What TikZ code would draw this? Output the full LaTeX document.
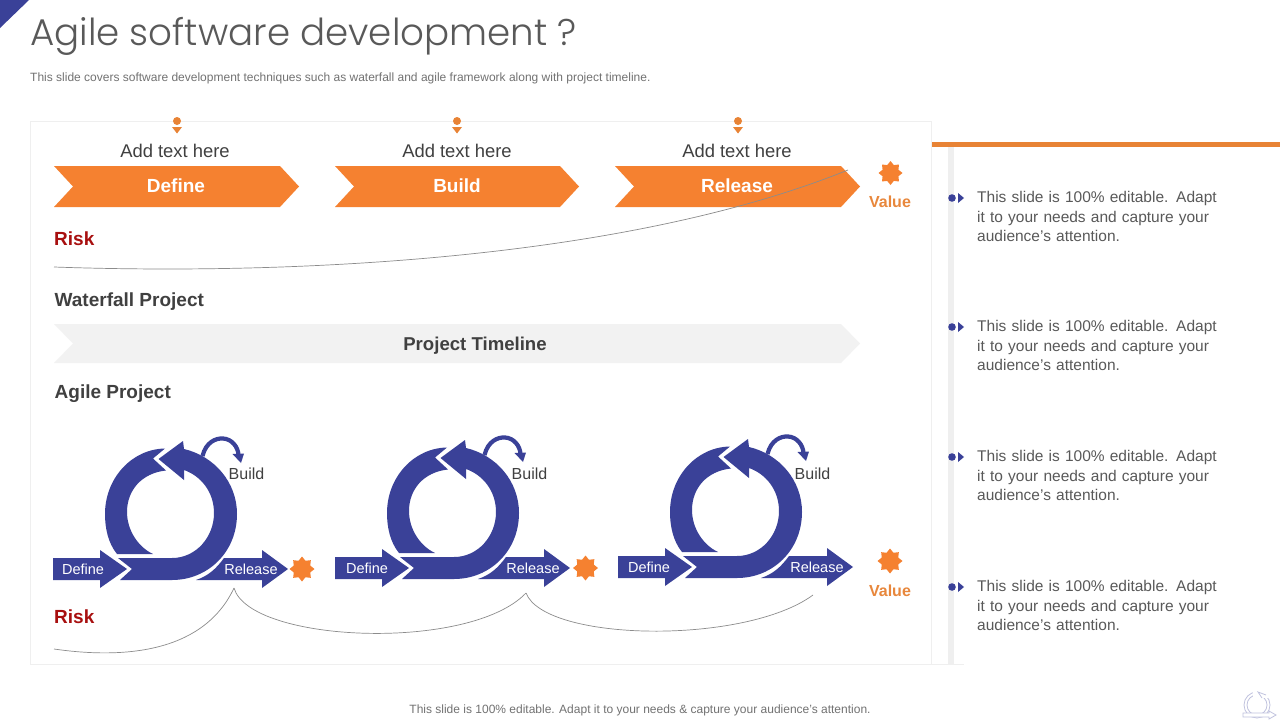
\documentclass[tikz,border=0pt]{standalone}
\usepackage{fontspec}
\setmainfont{Liberation Sans}
\newfontfamily\titlefont{Poppins Light}
\usetikzlibrary{shapes.geometric}
\definecolor{navy}{HTML}{3A4198}
\definecolor{orng}{HTML}{F58130}
\definecolor{barorng}{HTML}{E88335}
\definecolor{txt}{HTML}{404040}
\definecolor{bodytxt}{HTML}{595959}
\definecolor{lite}{HTML}{EFEFEF}
\definecolor{band}{HTML}{F2F2F2}
\definecolor{riskred}{HTML}{A80F0F}
\definecolor{valor}{HTML}{E8873C}
\tikzset{
 x=1pt,y=-1pt,
 lab/.style={font=\fontsize{18.4}{20}\selectfont,text=txt,inner sep=0pt},
 chevtxt/.style={font=\fontsize{19}{21}\selectfont\bfseries,text=white,inner sep=0pt},
 heading/.style={font=\fontsize{19}{21}\selectfont\bfseries,text=txt,inner sep=0pt,anchor=west},
 risk/.style={font=\fontsize{19}{21}\selectfont\bfseries,text=riskred,inner sep=0pt,anchor=west},
 val/.style={font=\fontsize{16}{18}\selectfont\bfseries,text=valor,inner sep=0pt},
 arrtxt/.style={font=\fontsize{14.5}{16}\selectfont,text=white,inner sep=0pt},
 buildtxt/.style={font=\fontsize{16}{18}\selectfont,text=txt,inner sep=0pt},
 side/.style={font=\fontsize{15.5}{19.2}\selectfont,text=bodytxt,inner sep=0pt,anchor=north west,align=left,text width=250pt},
 small/.style={font=\fontsize{12}{14}\selectfont,text=bodytxt!85,inner sep=0pt},
 burst/.style={star,star points=8,star point ratio=1.4,fill=orng,draw=none,inner sep=0pt,minimum size=#1},
 thin curve/.style={draw=black!45,line width=.7pt},
 logo/.style={draw=navy!32,line width=.8pt},
}
\newcommand{\chevronshape}[5]{% x0 x1 y0 y1 colour
 \fill[#5] (#1,#3) -- ({#2-19},#3) -- (#2,{(#3+#4)/2}) -- ({#2-19},#4) -- (#1,#4) -- ({#1+19},{(#3+#4)/2}) -- cycle;}
\newcommand{\pinmark}[1]{%
 \fill[barorng] (#1,121) circle (4);
 \fill[barorng] ({#1-5},127) -- ({#1+5},127) -- (#1,133.5) -- cycle;}
\newcommand{\bulletmark}[1]{%
 \fill[navy] (952,#1) circle (3.8);
 \fill[navy] (958,{#1-5}) -- (964,#1) -- (958,{#1+5}) -- cycle;}
\newcommand{\agileloop}[6]{% id dx dy define-dx release-dx build-dx
\begin{scope}[shift={(#2,#3)}]
 % left piece of the ring
 \fill[navy] (165,448.5) -- (153,458.5) -- (166,470.5)
   .. controls (142,473) and (127,490) .. (127,512)
   .. controls (127,530) and (138,547) .. (153,554) -- (117,554)
   .. controls (108,543) and (105,528) .. (105,514)
   .. controls (105,478) and (132,449) .. (165,448.5) -- cycle;
 % main piece of the ring with head
 \fill[navy] (120,580) -- (132,569) -- (118,558) -- (172,558)
   .. controls (196,558) and (214,537) .. (214,513)
   .. controls (214,492) and (201,476) .. (184,470) -- (184,480) -- (158.5,459) -- (183,441) -- (184,449)
   .. controls (214,456) and (237,482) .. (237,514)
   .. controls (237,552) and (208,580) .. (172,580) -- cycle;
 % small curved arrow
 \draw[navy,line width=4.2pt] (202.5,456) .. controls (206,442) and (216,438) .. (223,438.5) .. controls (232,439) and (238,447) .. (238.5,455);
 \fill[navy] (232.5,454) -- (244,453.5) -- (241,463) -- cycle;
 % define and release arrows
 \fill[navy] (53,558) -- (100,558) -- (100,550) -- (127,569) -- (100,588) -- (100,580) -- (53,580) -- cycle;
 \fill[navy] (196,580) .. controls (208,576) and (216,569) .. (224,558) -- (262,558) -- (262,550) -- (288,569) -- (262,588) -- (262,580) -- cycle;
 \node[arrtxt] (def#1) at ({83+#4},569) {Define};
 \node[arrtxt] (rel#1) at ({251+#5},569) {Release};
 \node[buildtxt] (bld#1) at ({246.5+#6},{474-#3}) {Build};
\end{scope}}
\begin{document}
\begin{tikzpicture}
\useasboundingbox (0,0) rectangle (1280,720);
\fill[white] (0,0) rectangle (1280,720);
\fill[navy] (0,0) -- (29,0) -- (0,28) -- cycle;
\node[font=\titlefont\fontsize{37.2}{42}\selectfont,text=bodytxt,inner sep=0pt,anchor=west] (title) at (30,36) {Agile software development ?};
\node[small,anchor=west] (sub) at (30,78) {This slide covers software development techniques such as waterfall and agile framework along with project timeline.};
% panel
\draw[draw=lite,line width=1pt] (30.5,121) rectangle (931.5,664.5);
% right column
\fill[lite] (948,147) rectangle (954,664);
\draw[lite,line width=1pt] (932,664.5) -- (964,664.5);
\fill[barorng] (932,142) rectangle (1280,147);
% waterfall row
\pinmark{177}\pinmark{457}\pinmark{738}
\node[lab] (a1) at (175,151) {Add text here};
\node[lab] (a2) at (457,151) {Add text here};
\node[lab] (a3) at (737,151) {Add text here};
\chevronshape{54}{299}{166}{207}{orng}
\chevronshape{335}{579}{166}{207}{orng}
\chevronshape{615}{860}{166}{207}{orng}
\node[chevtxt] (c1) at (176,186) {Define};
\node[chevtxt] (c2) at (457,186) {Build};
\node[chevtxt] (c3) at (737,186) {Release};
\node[burst=24pt] (s1) at (890.5,173) {};
\node[val] (v1) at (890,202) {Value};
\node[risk] (r1) at (54,239) {Risk};
\coordinate (wa) at (54,267);
\coordinate (wb) at (848,170);
\draw[thin curve] (wa) .. controls (280,275) and (620,262) .. (wb);
\node[heading] (wf) at (54.5,301.5) {Waterfall Project};
\chevronshape{54}{860}{324}{363}{band}
\node[font=\fontsize{18.6}{21}\selectfont\bfseries,text=txt,inner sep=0pt] (pt) at (475,345.5) {Project Timeline};
\node[heading] (ag) at (54.5,393.5) {Agile Project};
% agile row
\agileloop{1}{0}{0}{0}{0}{0}
\agileloop{2}{282}{-1}{2}{0}{1}
\agileloop{3}{565}{-2}{1}{1}{1}
\node[burst=25pt] (s2) at (302,569) {};
\node[burst=25pt] (s3) at (585.5,568) {};
\node[burst=25pt] (s4) at (890,561) {};
\node[val] (v2) at (890,591) {Value};
\node[risk] (r2) at (54,617) {Risk};
\coordinate (b0) at (54,649);
\coordinate (b1) at (234,588);
\coordinate (b2) at (526,593);
\coordinate (b3) at (813,595);
\draw[thin curve] (b0) .. controls (130,660) and (205,650) .. (b1);
\draw[thin curve] (b1) .. controls (250,643) and (470,652) .. (b2);
\draw[thin curve] (b2) .. controls (545,642) and (745,645) .. (b3);
% side text
\foreach \i/\yy in {1/198,2/327,3/457,4/587}{
 \bulletmark{\yy}
 \node[side] (t\i) at (977,\yy-6.5) {This slide is 100\% editable. Adapt\\it to your needs and capture your\\audience's attention.};
}
\node[small] (foot) at (640,710) {This slide is 100\% editable. Adapt it to your needs \& capture your audience's attention.};
% logo
\draw[logo] (1257,705) circle (13);
\draw[logo] (1257,705) circle (10);
\fill[white] (1253,689) rectangle (1268,698);
\draw[logo,fill=white] (1266,695) -- (1258,692) -- (1262,698);
\draw[logo,fill=white] (1243,713) -- (1269,713) -- (1269,711) -- (1276,715) -- (1269,719) -- (1269,717) -- (1243,717) -- cycle;
\end{tikzpicture}
\end{document}
